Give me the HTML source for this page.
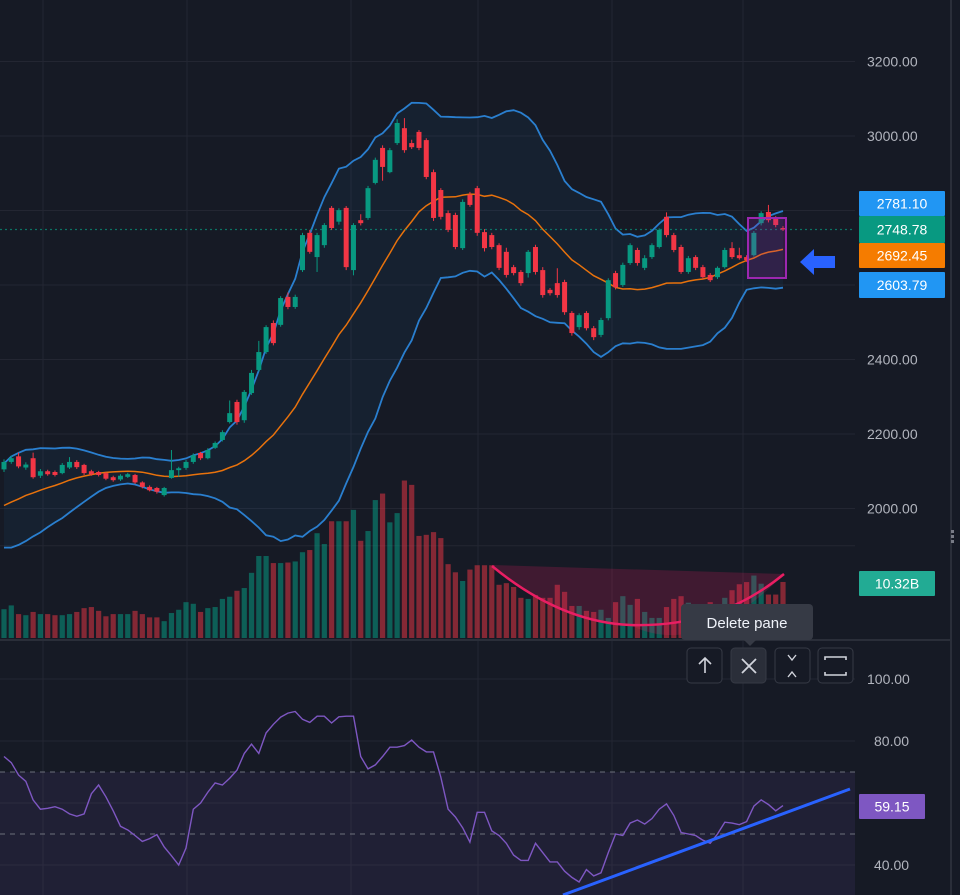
<!DOCTYPE html>
<html><head><meta charset="utf-8"><style>
html,body{margin:0;padding:0;background:#161a25;}
svg{display:block;font-family:"Liberation Sans",sans-serif;}
</style></head><body>
<svg id="chart" width="960" height="895" viewBox="0 0 960 895" xmlns="http://www.w3.org/2000/svg">
<rect x="0" y="0" width="960" height="895" fill="#161a25"/>
<g id="grid"></g>
<g id="bb"></g>
<g id="vol"></g>
<g id="candles"></g>
<g id="rsi"></g>
<g id="axis"></g>
<g id="overlay"></g>
</svg>
<script>
const opens=[2105,2125,2140,2110,2135,2088,2100,2098,2095,2110,2125,2117,2100,2098,2095,2084,2078,2085,2090,2070,2058,2055,2036,2082,2103,2109,2125,2149,2135,2163,2184,2232,2286,2237,2310,2372,2420,2498,2493,2568,2541,2640,2740,2675,2707,2807,2770,2807,2640,2774,2780,2874,2968,2903,2981,3021,2981,3011,2989,2903,2855,2793,2788,2699,2842,2860,2742,2734,2707,2689,2648,2635,2632,2702,2640,2587,2605,2608,2525,2487,2525,2484,2466,2511,2632,2600,2659,2694,2646,2675,2702,2783,2734,2702,2635,2675,2648,2627,2621,2648,2699,2680,2675,2680,2766,2796,2780,2753];
const closes=[2125,2135,2113,2118,2084,2100,2092,2090,2117,2125,2111,2095,2092,2090,2080,2076,2088,2092,2070,2058,2049,2045,2055,2103,2108,2125,2143,2135,2157,2176,2205,2256,2232,2313,2364,2420,2487,2444,2565,2541,2568,2734,2689,2734,2761,2753,2801,2648,2761,2766,2860,2936,2917,2962,3035,2962,2970,2968,2890,2780,2783,2748,2702,2823,2815,2740,2699,2702,2646,2627,2632,2605,2689,2635,2573,2578,2573,2527,2471,2519,2484,2460,2506,2613,2594,2654,2707,2659,2672,2707,2748,2734,2694,2635,2672,2646,2621,2613,2646,2694,2675,2672,2667,2740,2793,2774,2761,2749];
const highs=[2132,2142,2150,2124,2150,2106,2104,2102,2122,2138,2130,2120,2104,2101,2098,2088,2092,2096,2093,2073,2062,2058,2058,2157,2112,2130,2148,2152,2162,2180,2210,2290,2292,2318,2372,2450,2492,2505,2570,2580,2574,2740,2748,2740,2766,2812,2806,2812,2766,2790,2866,2942,2975,2968,3045,3048,2990,3016,2994,2910,2860,2800,2794,2830,2850,2866,2750,2740,2712,2700,2654,2640,2694,2708,2648,2592,2645,2614,2530,2524,2530,2490,2512,2618,2638,2660,2712,2700,2680,2712,2752,2795,2740,2708,2678,2680,2654,2632,2650,2700,2715,2700,2680,2745,2798,2815,2785,2758];
const lows=[2098,2120,2108,2104,2080,2082,2088,2086,2092,2106,2106,2090,2088,2086,2076,2072,2074,2082,2066,2054,2046,2040,2032,2080,2085,2104,2120,2130,2132,2160,2180,2228,2225,2230,2305,2368,2415,2438,2488,2535,2536,2635,2684,2635,2700,2748,2762,2640,2626,2760,2775,2870,2880,2900,2976,2955,2965,2962,2884,2772,2776,2742,2696,2694,2810,2732,2690,2696,2640,2620,2626,2598,2620,2628,2566,2572,2566,2520,2464,2480,2478,2452,2460,2505,2588,2595,2654,2652,2640,2670,2698,2728,2688,2630,2630,2640,2616,2608,2616,2644,2670,2668,2662,2676,2760,2768,2755,2745];
const volumes=[5.3,6.0,4.4,4.2,4.8,4.4,4.4,4.2,4.2,4.4,4.8,5.5,5.7,5.0,4.0,4.4,4.4,4.4,5.0,4.4,3.8,3.8,3.1,4.6,5.2,6.6,6.3,4.8,5.5,5.7,7.2,7.6,8.7,9.2,12.0,15.1,15.1,13.8,13.8,13.9,14.1,15.8,16.2,19.3,17.3,21.5,21.5,21.5,23.6,17.9,19.7,25.4,26.6,21.3,23.0,29.0,28.2,18.8,19.0,19.5,18.4,13.6,12.1,10.5,12.6,13.4,13.4,13.4,9.8,10.1,9.4,7.4,7.2,7.9,7.4,7.4,9.8,8.5,5.9,5.9,5.0,4.8,5.2,3.7,6.6,7.7,6.1,7.2,4.8,3.7,3.7,5.7,7.2,7.7,6.5,6.0,5.5,6.6,6.0,7.4,8.8,9.9,10.3,11.5,10.0,8.0,8.0,10.32];
const rsiValues=[75,73,69,67,61,58,58.3,58.8,58,56.5,55.7,56.5,63,65.8,62,57.5,52.5,51.3,49.5,47.6,48.5,49.8,45.8,43,40,45.5,58,60,63.5,66.5,65.8,68,70.6,76,79,76,82.6,85.4,87.7,89,89.5,87,86,88,88,85.8,87.8,88,88,75,71,72.3,75,78,78,78.5,80.3,78,76.5,76.5,68.4,58,55.5,52,47.4,57,57,51,49.5,47,43.2,41.5,41.5,47,44,41,41,38,36,34.5,38.5,36.5,37.5,44,50,49.5,53.5,54.5,53.2,55,58,59.7,56,50.5,50,49.5,48,47,50,53.8,53.5,53,54,59,61,59.5,57.5,59.15];
const warmupCloses=[1950,1940,1935,1945,1960,1955,1970,1980,1975,1990,2000,2010,2020,2035,2050,2065,2075,2085,2095];
const priceTicks=[3200,3000,2800,2600,2400,2200,2000,1900];
const priceLabels=["3200.00","3000.00","","","2400.00","2200.00","2000.00",""];
const rsiTicks=[100,80,60,40];
const rsiLabels=["100.00","80.00","","40.00"];

const NS="http://www.w3.org/2000/svg";
function el(tag,attrs,parent){const e=document.createElementNS(NS,tag);for(const k in attrs)e.setAttribute(k,attrs[k]);parent.appendChild(e);return e;}
const N=closes.length;
const xOf=i=>4+i*(779/(N-1));
const yP=p=>136+(3000-p)*0.3725;
const yV=v=>638-v*5.43;
const yR=v=>679+(100-v)*3.1;
const UP="#089981",DN="#f23645";

const grid=document.getElementById('grid');
[43,187,351,478,612,743].forEach(x=>{const l=el('line',{x1:x,x2:x,y1:0,y2:895,stroke:'#232632','stroke-width':1},grid);});
priceTicks.forEach(p=>{const l=el('line',{x1:0,x2:855,y1:yP(p),y2:yP(p),stroke:'#232632','stroke-width':1},grid);});
rsiTicks.forEach(v=>{const l=el('line',{x1:0,x2:855,y1:yR(v),y2:yR(v),stroke:'#232632','stroke-width':1},grid);});

const all=warmupCloses.concat(closes);const W=warmupCloses.length;
const mid=[],up=[],lo=[];
for(let i=0;i<N;i++){const s=all.slice(i+W-19,i+W+1);const m=s.reduce((a,b)=>a+b,0)/s.length;const sd=Math.sqrt(s.reduce((a,b)=>a+(b-m)*(b-m),0)/s.length);mid.push(m);up.push(m+2*sd);lo.push(m-2*sd);}
const bb=document.getElementById('bb');
const pts=a=>a.map((v,i)=>xOf(i).toFixed(1)+','+yP(v).toFixed(1));
const fill=el('polygon',{points:pts(up).concat(pts(lo).reverse()).join(' '),fill:'rgba(33,150,243,0.06)'},bb);

const bu=el('polyline',{points:pts(up).join(' '),fill:'none',stroke:'#2a7fcf','stroke-width':1.8},bb);

const bl=el('polyline',{points:pts(lo).join(' '),fill:'none',stroke:'#2a7fcf','stroke-width':1.8},bb);

const bm=el('polyline',{points:pts(mid).join(' '),fill:'none',stroke:'#e8720c','stroke-width':1.5},bb);

const last=el('line',{x1:0,x2:855,y1:yP(closes[N-1]),y2:yP(closes[N-1]),stroke:'#089981','stroke-width':1.2,'stroke-dasharray':'2 3',opacity:0.7},bb);


const vol=document.getElementById('vol');
for(let i=0;i<N;i++){const v=volumes[i];const c=closes[i]>=opens[i]?'rgba(8,153,129,0.55)':'rgba(242,54,69,0.5)';
 const r=el('rect',{x:xOf(i)-2.6,y:yV(v),width:5.2,height:638-yV(v),fill:c},vol);
 }

const cg=document.getElementById('candles');
for(let i=0;i<N;i++){const o=opens[i],c=closes[i];const col=c>=o?UP:DN;const x=xOf(i);
 const w=el('line',{x1:x,x2:x,y1:yP(highs[i]),y2:yP(lows[i]),stroke:col,'stroke-width':1},cg);
 
 const t=Math.min(yP(o),yP(c));const h=Math.max(1,Math.abs(yP(o)-yP(c)));
 const b=el('rect',{x:x-2.5,y:t,width:5,height:h,fill:col},cg);
 }

const rg=document.getElementById('rsi');
const sep=el('line',{x1:0,x2:950,y1:640,y2:640,stroke:'#2a2e39','stroke-width':2},rg);

const band=el('rect',{x:0,y:yR(70),width:855,height:895-yR(70),fill:'rgba(126,87,194,0.1)'},rg);

[70,50].forEach(v=>{const l=el('line',{x1:0,x2:855,y1:yR(v),y2:yR(v),stroke:'#787b86','stroke-width':1.2,'stroke-dasharray':'5 5',opacity:0.7},rg);});
const rl=el('polyline',{points:rsiValues.map((v,i)=>xOf(i).toFixed(1)+','+yR(v).toFixed(1)).join(' '),fill:'none',stroke:'#7e57c2','stroke-width':1.4},rg);


const ax=document.getElementById('axis');
const edge=el('line',{x1:951,x2:951,y1:0,y2:895,stroke:'#2a2e39','stroke-width':2},ax);

priceTicks.forEach((p,i)=>{if(!priceLabels[i])return;const t=el('text',{x:867,y:yP(p)+5,fill:'#b2b5be','font-size':14},ax);t.textContent=priceLabels[i];});
rsiTicks.forEach((v,i)=>{if(!rsiLabels[i])return;const t=el('text',{x:i==0?867:874,y:yR(v)+5,fill:'#b2b5be','font-size':14},ax);t.textContent=rsiLabels[i];});
function badge(y,h,col,txt,name,x0,w){const r=el('rect',{x:x0||859,y:y,width:w||86,height:h,fill:col,rx:1},ax);
 const t=el('text',{x:(x0||859)+(w||86)/2,y:y+h/2+5,fill:'#fff','font-size':14,'text-anchor':'middle'},ax);t.textContent=txt;}
badge(191,25,'#2196f3','2781.10','bb-upper-badge');
badge(216,27,'#089981','2748.78','last-price-badge');
badge(243,25,'#f57c00','2692.45','bb-basis-badge');
badge(272,26,'#2196f3','2603.79','bb-lower-badge');
badge(571,25,'#22ab94','10.32B','volume-badge',859,76);
badge(794,25,'#7e57c2','59.15','rsi-badge',859,66);
for(let k=0;k<3;k++){const d=el('rect',{x:951,y:530+k*5,width:3,height:3,fill:'#787b86'},ax);}

const ov=document.getElementById('overlay');
const box=el('rect',{x:748,y:218,width:38,height:60,fill:'rgba(156,39,176,0.2)',stroke:'#9c27b0','stroke-width':2},ov);

const arr=el('polygon',{points:'800,262 814,249 814,256 835,256 835,268 814,268 814,275',fill:'#2962ff'},ov);

const cup=el('path',{d:'M492,565 L784,574 Q700,660 630,625 Q560,620 492,565 Z',fill:'rgba(233,30,99,0.2)'},ov);

const cupl=el('path',{d:'M492,566 Q560,622 630,625 C690,627 740,610 784,574',fill:'none',stroke:'#e91e63','stroke-width':2.5},ov);

const tl=el('line',{x1:563,y1:895,x2:850,y2:789,stroke:'#2962ff','stroke-width':3},ov);

const tip=el('rect',{x:681,y:604,width:132,height:36,rx:4,fill:'#363a45'},ov);

const tipA=el('polygon',{points:'744,640 756,640 750,646',fill:'#363a45'},ov);

const tt=el('text',{x:747,y:628,fill:'#f0f3fa','font-size':15,'text-anchor':'middle'},ov);tt.textContent='Delete pane';

const btns=[[687,'move-up-button'],[731,'delete-pane-button'],[775,'collapse-pane-button'],[818,'maximize-pane-button']];
btns.forEach(([x,n],k)=>{const r=el('rect',{x:x,y:648,width:35,height:35,rx:4,fill:k==1?'#2a2e39':'#161a25',stroke:'#363a45','stroke-width':1},ov);});
const ic='#d1d4dc';
const i1=el('path',{d:'M705,673 V658 M699,664 L705,658 L711,664',stroke:ic,'stroke-width':1.6,fill:'none'},ov);

const i2=el('path',{d:'M742,659 L756,673 M756,659 L742,673',stroke:ic,'stroke-width':1.8,fill:'none'},ov);

const i3=el('path',{d:'M788,655 L792,660 L796,655 M788,677 L792,672 L796,677',stroke:ic,'stroke-width':1.4,fill:'none'},ov);

const i4=el('path',{d:'M825,660 V657 H846 V660 M825,672 V675 H846 V672',stroke:ic,'stroke-width':1.6,fill:'none'},ov);

</script>
</body></html>
